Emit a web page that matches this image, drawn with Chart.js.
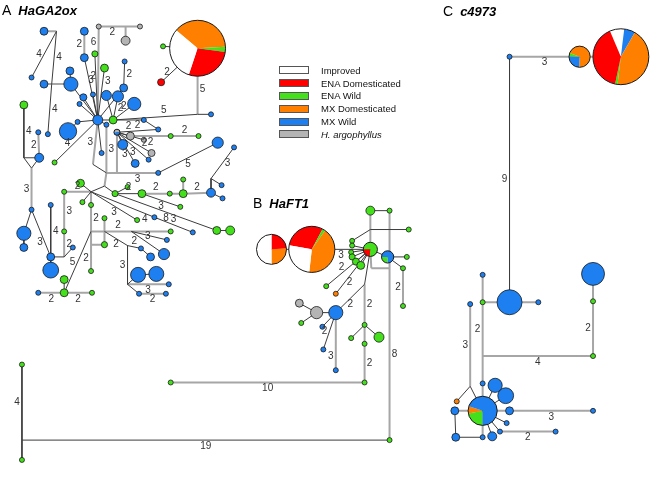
<!DOCTYPE html>
<html><head><meta charset="utf-8">
<script src="https://cdn.jsdelivr.net/npm/chart.js@4.4.1/dist/chart.umd.min.js"></script>
<style>
html,body{margin:0;padding:0;background:#fff;}
#wrap{position:relative;width:662px;height:477px;overflow:hidden;}
#c{position:absolute;left:0;top:0;}
.ttl{position:absolute;font-family:"Liberation Sans",Arial,sans-serif;color:#000;white-space:nowrap;line-height:14px;font-size:14px;}
.ttl b{font-style:italic;font-weight:bold;font-size:13px;margin-left:7px;}
#legend{position:absolute;left:279px;top:64px;font-family:"Liberation Sans",Arial,sans-serif;font-size:9.5px;color:#111;}
.row{display:flex;align-items:center;height:12.8px;}
.sw{width:30px;height:8px;border:1px solid #555;box-sizing:border-box;margin-right:12px;}
</style></head>
<body>
<div id="wrap">
<canvas id="c" width="662" height="477"></canvas>
<div class="ttl" style="left:2px;top:3px;">A<b>HaGA2ox</b></div>
<div class="ttl" style="left:253px;top:196px;">B<b>HaFT1</b></div>
<div class="ttl" style="left:443px;top:4px;">C<b>c4973</b></div>
<div id="legend"></div>
</div>
<script>
// ---- categories ----
const catCodes  = ['I','ED','EW','MD','MW','HA'];
const catLabels = ['Improved','ENA Domesticated','ENA Wild','MX Domesticated','MX Wild','H. argophyllus'];
const catColors = ['#ffffff','#ff0000','#44e01c','#ff8000','#1e80f0','#b4b4b4'];

// ---- haplotypes: [id, x, y, frequency, group]  (J = junction, P = pie) ----
const nodesA = [
 ['a1',32,19,2.5,'MW'],['jA0',45,19,0,'J'],['a2',19,68,1,'MW'],['jA0b',40,75,0,'J'],['a3',36,128,1,'MW'],
 ['a4',89,14,1,'HA'],['jA9',117,14,0,'J'],['a5',132,14,1,'HA'],['a6',117,29,3.2,'HA'],
 ['a7',74,19,2.5,'MW'],['a8',74,47,2.5,'MW'],['a9',85,43,1.5,'EW'],['a10',95,58,2.5,'EW'],
 ['a11',116,51,1,'MW'],['a12',115,79,2.5,'MW'],['a13',59,61,2.5,'MW'],['a14',60,75,8,'MW'],['a15',32,75,2.5,'MW'],
 ['a16',73,89,2,'MW'],['a17',83,86,1,'MW'],['a18',97,87,4,'MW'],['a19',109,88,5,'MW'],['a20',126,96,7,'MW'],['a21',69,96,1,'MW'],
 ['hA',88,113,4,'MW'],['a22',104,113,2.5,'EW'],['a23',206,107,1,'MW'],['jF',192,107,0,'J'],
 ['pA',192,37,125,'P'],['a91',156,35,1,'EW'],['a92',154,73,2,'ED'],
 ['a24',136,113,1,'MW'],['a25',151,123,1,'MW'],['a26',108,126,1.5,'P'],['a27',122,130,2.5,'HA'],
 ['a28',164,130,1,'EW'],['a29',193,130,1,'EW'],['a30',136,134,1,'HA'],['a31',144,148,2,'HA'],
 ['a32',141,155,1,'MW'],['a33',127,159,2.5,'MW'],['a34',114,139,4,'MW'],['a35',92,148,1,'MW'],['a36',97,118,1,'MW'],
 ['a38',67,115,1,'MW'],['a39',57,125,12,'MW'],['a40',43,158,1,'EW'],
 ['a42',26,126,1,'MW'],['a41',27,153,3.2,'MW'],['a43',11,97,2.5,'EW'],['jT1',11,153,0,'J'],['jT2',19,164,0,'J'],
 ['a44',19,208,1,'MW'],['a45',11,233,8,'MW'],['a46',11,248,2.5,'MW'],['a47',39,258,2.5,'MW'],['a48',39,203,1,'MW'],['a49',39,272,10,'MW'],
 ['a50',53,189,1,'EW'],['a51',53,231,1,'EW'],['a52',62,248,1,'MW'],['jB1',53,258,0,'J'],
 ['a53',70,180,2.5,'EW'],['jA1',81,189,0,'J'],['a54',72,200,1,'EW'],
 ['jG',83,160,0,'J'],['jC',97,169,0,'J'],['jD',108,169,0,'J'],['jA5',95,183,0,'J'],
 ['a55',81,203,1,'EW'],['jA2',81,231,0,'J'],['jA3',81,245,0,'J'],['a56',81,273,1,'EW'],
 ['jA4',95,231,0,'J'],['jA10',123,231,0,'J'],['a57',164,231,1,'EW'],['a58',95,217,1,'EW'],['a59',95,245,1.5,'EW'],
 ['a60',133,249,1,'MW'],['jA6',119,246,0,'J'],['a61',160,240,1,'MW'],['a62',157,255,5,'MW'],['a63',143,258,2.5,'MW'],
 ['jA7',119,287,0,'J'],['a64',130,277,9,'MW'],['a65',149,276,9,'MW'],['a66',162,287,1,'MW'],['a67',131,297,1,'MW'],['a68',159,297,1,'MW'],
 ['a69',53,296,2.5,'EW'],['a70',53,282,2.5,'EW'],['a71',26,296,1,'MW'],['a72',82,296,1,'EW'],
 ['a73',151,169,1,'MW'],['a74',213,137,5,'MW'],['a75',230,142,1,'MW'],['jE',206,175,0,'J'],
 ['a76',206,190,3.2,'MW'],['a77',217,182,1,'MW'],['a78',218,196,1,'MW'],
 ['a79',177,176,1,'EW'],['a80',177,191,2.5,'EW'],['a81',163,191,1,'EW'],['a82',134,191,2.5,'EW'],['a83',119,184,1,'EW'],['a84',106,191,1.5,'EW'],
 ['a85',174,205,1,'EW'],['a86',129,219,1,'EW'],['a87',147,216,1,'MW'],['a88',187,232,1,'MW'],['a89',212,230,2.5,'EW'],['a90',226,230,3.2,'EW'],
 ['f1',9,372,1,'EW'],['jH',9,452,0,'J'],['f2',9,473,1,'EW']
];
const nodesB = [
 ['b1',372,209,3.2,'EW'],['b2',392,209,1,'EW'],['jBt',372,229,0,'J'],['b3',412,229,1,'EW'],['b4',353,241,1,'EW'],
 ['bC',372,250,8,'P'],['pB1',269,250,36,'P'],['pB2',311,250,85,'P'],
 ['b5',353,246,1,'EW'],['b6',352,253,1,'EW'],['b7',353,258,1.5,'EW'],['b8',357,263,2,'EW'],['b9',362,267,2.5,'EW'],
 ['b10',390,258,6,'P'],['b11',410,258,1,'EW'],['b12',406,270,1,'EW'],['b13',406,310,1,'EW'],
 ['jB2',373,270,0,'J'],['jB3',392,270,0,'J'],['jB4',366,287,0,'J'],
 ['b14',366,330,1,'EW'],['b15',352,344,1,'EW'],['b16',381,343,4,'EW'],['b17',366,350,1,'EW'],['b18',366,391,1,'EW'],
 ['b19',164,391,1,'EW'],['b20',392,452,1,'EW'],
 ['b21',326,289,1,'EW'],['b22',336,297,1,'MD'],['b23',336,317,8,'MW'],['b24',316,317,6,'HA'],['b25',298,307,2.5,'HA'],
 ['b26',300,328,1,'EW'],['b27',322,332,1,'MW'],['b28',323,356,1,'MW'],['b29',336,378,1,'MW']
];
const nodesC = [
 ['c1',517,46,1,'MW'],['pC1',590,46,18,'P'],['pC2',633,46,125,'P'],
 ['c2',517,306,25,'MW'],['c3',489,306,1,'EW'],['c4',547,306,1,'MW'],['c5',489,277,1,'MW'],['c6',476,308,1,'MW'],
 ['jC1',489,363,0,'J'],['pC3',489,421,34,'P'],['c7',604,363,1,'EW'],['c8',604,305,1,'EW'],['c9',604,276,21,'MW'],
 ['jC2',476,395,0,'J'],['c10',462,411,1,'MD'],['c11',460,421,2.5,'MW'],['c12',461,449,2.5,'MW'],['c13',489,449,1,'MW'],
 ['c14',489,392,1,'MW'],['c15',502,394,8,'MW'],['c16',513,405,10,'MW'],['c17',517,421,2.5,'MW'],['c18',604,421,1,'MW'],
 ['c19',514,434,1,'MW'],['c20',507,443,1,'MW'],['c21',565,443,1,'MW'],['c22',499,448,3.2,'MW']
];

// ---- mutational steps: [from, to, steps, kind, labelSide, t] ----
const edgesA = [
 ['a1','jA0',0,'g'],['jA0','a2',4,'d','l'],['jA0','jA0b',4,'d','r'],['jA0b','a3',4,'d','r'],
 ['a4','jA9',2,'g','b'],['jA9','a5',0,'g'],['jA9','a6',0,'g'],
 ['a7','a8',2,'g','l'],['a8','hA',2,'d','r',0.3],['a4','hA',6,'g','l',0.17],
 ['a9','hA',3,'d','l',0.4],['a10','hA',3,'d','r',0.25],['a11','a12',2,'d','r'],['a12','hA',0,'d'],
 ['a13','a14',0,'d'],['a15','a14',0,'g'],['a14','hA',0,'d'],
 ['a16','hA',0,'d'],['a17','hA',0,'d'],['a21','hA',0,'d'],['a18','a22',0,'d'],['a19','a22',2,'d','r'],['a20','a22',2,'d','a'],
 ['hA','a22',0,'d'],['a22','jF',5,'d','a',0.6],['jF','a23',0,'d'],['pA','jF',5,'g','r',0.62],
 ['a91','pA',0,'d'],['a92','pA',2,'d','l',0.3],
 ['a22','a24',2,'d','b'],['a24','a25',0,'d'],['a26','a25',2,'d','a'],['a26','a27',0,'d'],
 ['a27','a28',2,'g','b'],['a28','a29',2,'g','a'],['a26','a30',0,'d'],['a26','a31',2,'d','a',0.8],
 ['a26','a32',3,'d','b'],['a26','a33',3,'d','l',0.7],['a26','a34',0,'d'],
 ['hA','a36',0,'d'],['hA','a35',0,'d'],['hA','jG',3,'g','l'],['a36','jC',3,'g','r'],['jG','jC',0,'d'],
 ['jC','jD',0,'g'],['a26','jD',0,'g'],['jD','a73',3,'g','b'],['a73','a74',5,'d','b'],['jC','jA5',0,'g'],
 ['a38','hA',0,'d'],['a39','a38',0,'d'],['a40','hA',4,'d','a',0.3],
 ['a42','a41',2,'g','l'],['a43','jT1',4,'d','r'],['jT1','a41',0,'d'],['jT1','jT2',0,'d'],['a41','jT2',0,'d'],
 ['jT2','a44',3,'g','l'],['a44','a45',0,'d'],['a45','a46',0,'d'],['a44','a47',3,'d','l',0.7],
 ['a48','a47',4,'d','r'],['a47','a49',0,'d'],
 ['a50','a51',3,'g','r'],['a51','jB1',2,'g','r'],['jB1','a47',0,'d'],['jB1','a52',0,'d'],
 ['a50','jA1',2,'g','a'],['a53','jA1',0,'d'],['jA1','a54',0,'d'],['jA5','jA1',0,'d'],
 ['jA1','a55',0,'g'],['a55','jA2',2,'g','r'],['jA2','jA3',0,'g'],['jA3','a56',2,'g','l'],
 ['jA2','jA4',0,'g'],['jA4','jA10',2,'g','a'],['jA10','a57',0,'g'],
 ['a58','jA4',0,'g'],['jA4','a59',0,'g'],['jA3','a59',0,'g'],
 ['jA4','jA6',2,'d','b'],['jA6','a60',2,'d','a'],['a60','a63',0,'d'],['jA10','a61',0,'d'],['jA10','a62',3,'d','a'],
 ['jA6','jA7',3,'d','l'],['jA7','a64',0,'d'],['a64','a65',0,'d'],['jA7','a66',3,'g','b'],
 ['jA7','a67',0,'d'],['a67','a68',2,'g','b'],
 ['jA2','a69',5,'d','l'],['a69','a70',0,'d'],['a71','a69',2,'g','b'],['a69','a72',2,'g','b'],
 ['a75','jE',3,'d','r'],['jE','a76',0,'d'],['jE','a77',0,'d'],['a76','a78',0,'d'],
 ['a80','a76',2,'g','a'],['a79','a80',0,'g'],['a81','a80',0,'g'],['a82','a81',2,'g','a'],
 ['a84','a82',2,'d','a'],['a84','a83',0,'d'],['jA5','a84',0,'d'],['a82','a85',3,'d','b'],
 ['jA1','a86',3,'d','b'],['jA1','a87',4,'d','b',0.85],['a87','a88',3,'d','a'],
 ['a84','a89',8,'d','b'],['a89','a90',0,'d'],
 ['f1','jH',4,'d','l'],['jH','f2',0,'d'],['jH','b20',19,'d','b']
];
const edgesB = [
 ['b1','b2',0,'d'],['b1','jBt',0,'g'],['jBt','b3',0,'d'],['jBt','b4',0,'d'],['jBt','bC',0,'g'],
 ['pB1','pB2',0,'d'],['pB2','bC',3,'d','b'],
 ['b5','bC',0,'d'],['b6','bC',0,'d'],['b7','bC',0,'d'],['b8','bC',0,'d'],['b9','bC',0,'d'],
 ['bC','b10',0,'d'],['b10','b11',0,'d'],['b10','b12',0,'d'],['b12','b13',2,'g','l'],
 ['bC','jB2',0,'g'],['jB2','jB3',0,'g'],['b2','jB3',0,'g'],['jB3','b20',8,'g','r'],
 ['bC','jB4',0,'d'],['jB4','b14',2,'g','r'],['b14','b15',0,'d'],['b14','b16',0,'d'],['b14','b17',0,'g'],
 ['b17','b18',2,'g','r'],['b18','b19',10,'g','b'],
 ['b21','bC',2,'d','a',0.35],['b22','bC',2,'d','b',0.4],['b23','jB4',2,'d','b'],
 ['b23','b24',0,'d'],['b24','b25',0,'d'],['b24','b26',0,'d'],['b23','b27',0,'d'],
 ['b23','b28',2,'d','l'],['b23','b29',3,'g','l',0.75]
];
const edgesC = [
 ['c1','pC1',3,'g','b'],['pC1','pC2',0,'g'],['c1','c2',9,'d','l'],
 ['c3','c2',0,'g'],['c2','c4',0,'g'],['c3','c5',0,'g'],['c3','jC1',2,'g','l'],['jC1','pC3',0,'g'],
 ['jC1','c7',4,'g','b'],['c7','c8',2,'g','l'],['c8','c9',0,'g'],
 ['c6','jC2',3,'g','l'],['jC2','c10',0,'d'],['jC2','pC3',0,'d'],
 ['c11','pC3',0,'g'],['c11','c12',0,'d'],['c12','c13',0,'d'],['c13','pC3',0,'g'],
 ['c14','pC3',0,'g'],['c15','pC3',0,'d'],['c15','c16',0,'d'],['c16','pC3',0,'d'],['c17','pC3',0,'g'],
 ['c17','c18',3,'g','b'],['c19','pC3',0,'d'],['c20','pC3',0,'d'],['c20','c21',2,'g','b'],['c22','pC3',0,'d']
];

// ---- mixed haplotypes (pie composition) ----
const pieNodes  = ['pA','pB1','pB2','bC','b10','a26','pC1','pC2','pC3'];
const pieStart  = [-140,-90,-170,95,90,180,-160,-113,90];
const pieShares = [
 [['MD',0.38],['EW',0.03],['ED',0.28],['I',0.31]],
 [['ED',0.24],['MD',0.26],['I',0.50]],
 [['ED',0.30],['EW',0.02],['MD',0.42],['I',0.26]],
 [['ED',0.24],['EW',0.76]],
 [['EW',0.25],['MW',0.75]],
 [['HA',0.5],['MW',0.5]],
 [['MD',0.70],['MW',0.25],['EW',0.05]],
 [['I',0.083],['MW',0.064],['MD',0.436],['EW',0.014],['ED',0.403]],
 [['EW',0.22],['MD',0.08],['MW',0.70]]
];

// ---- build ----
const allNodes = [...nodesA, ...nodesB, ...nodesC];
const allEdges = [...edgesA, ...edgesB, ...edgesC];
const byId = {};
allNodes.forEach(n => byId[n[0]] = n);
const colorOf = c => catColors[catCodes.indexOf(c)];
const radius = f => 2.5 * Math.sqrt(f);

function edgePoints(kind) {
  const out = [];
  allEdges.forEach(e => {
    if (e[3] !== kind) return;
    const a = byId[e[0]], b = byId[e[1]];
    out.push({x: a[1], y: a[2]}, {x: b[1], y: b[2]}, {x: b[1], y: null});
  });
  return out;
}
const plainNodes = allNodes.filter(n => n[4] !== 'J' && n[4] !== 'P');

// legend
const lg = document.getElementById('legend');
catLabels.forEach((lab, i) => {
  const row = document.createElement('div'); row.className = 'row';
  const sw = document.createElement('div'); sw.className = 'sw'; sw.style.background = catColors[i];
  const tx = document.createElement('span'); tx.textContent = lab;
  if (catCodes[i] === 'HA') tx.style.fontStyle = 'italic';
  row.appendChild(sw); row.appendChild(tx); lg.appendChild(row);
});

const overlay = {
  id: 'overlay',
  afterDatasetsDraw(chart) {
    const ctx = chart.ctx, xs = chart.scales.x, ys = chart.scales.y;
    ctx.save();
    pieNodes.forEach((id, i) => {
      const n = byId[id];
      const cx = xs.getPixelForValue(n[1]), cy = ys.getPixelForValue(n[2]);
      const r = radius(n[3]);
      const tot = pieShares[i].reduce((s, p) => s + p[1], 0);
      let a = pieStart[i] * Math.PI / 180;
      pieShares[i].forEach(([c, f]) => {
        const a2 = a + f / tot * 2 * Math.PI;
        ctx.beginPath(); ctx.moveTo(cx, cy); ctx.arc(cx, cy, r, a, a2); ctx.closePath();
        ctx.fillStyle = colorOf(c); ctx.fill();
        a = a2;
      });
      ctx.beginPath(); ctx.arc(cx, cy, r, 0, 2 * Math.PI);
      ctx.lineWidth = 1; ctx.strokeStyle = '#1a1a1a'; ctx.stroke();
    });
    ctx.font = '10px "Liberation Sans", Arial, sans-serif';
    ctx.fillStyle = '#333'; ctx.textAlign = 'center'; ctx.textBaseline = 'middle';
    const off = {a: [0, -6], b: [0, 6], l: [-5, 0], r: [5, 0]};
    allEdges.forEach(e => {
      if (!e[2]) return;
      const A = byId[e[0]], B = byId[e[1]];
      const t = e[5] !== undefined ? e[5] : 0.5;
      const px = xs.getPixelForValue(A[1] + (B[1] - A[1]) * t);
      const py = ys.getPixelForValue(A[2] + (B[2] - A[2]) * t);
      const o = off[e[4] || 'b'];
      ctx.fillText(String(e[2]), px + o[0], py + o[1]);
    });
    ctx.restore();
  }
};

new Chart(document.getElementById('c'), {
  type: 'scatter',
  data: {
    datasets: [
      {type: 'bubble', data: plainNodes.map(n => ({x: n[1], y: n[2], r: radius(n[3])})),
       backgroundColor: plainNodes.map(n => colorOf(n[4])), borderColor: '#1a1a1a', borderWidth: 0.8,
       hoverRadius: 0, order: 1, clip: false},
      {type: 'scatter', showLine: true, data: edgePoints('d'), borderColor: '#3c3c3c', borderWidth: 1,
       pointRadius: 0, spanGaps: false, order: 2, clip: false},
      {type: 'scatter', showLine: true, data: edgePoints('g'), borderColor: '#a6a6a6', borderWidth: 2,
       pointRadius: 0, spanGaps: false, order: 3, clip: false}
    ]
  },
  options: {
    responsive: false, animation: false, events: [],
    layout: {padding: 0},
    scales: {
      x: {type: 'linear', min: 0, max: 662, display: false},
      y: {type: 'linear', min: 0, max: 477, reverse: true, display: false}
    },
    plugins: {legend: {display: false}, tooltip: {enabled: false}}
  },
  plugins: [overlay]
});
</script>
</body></html>
